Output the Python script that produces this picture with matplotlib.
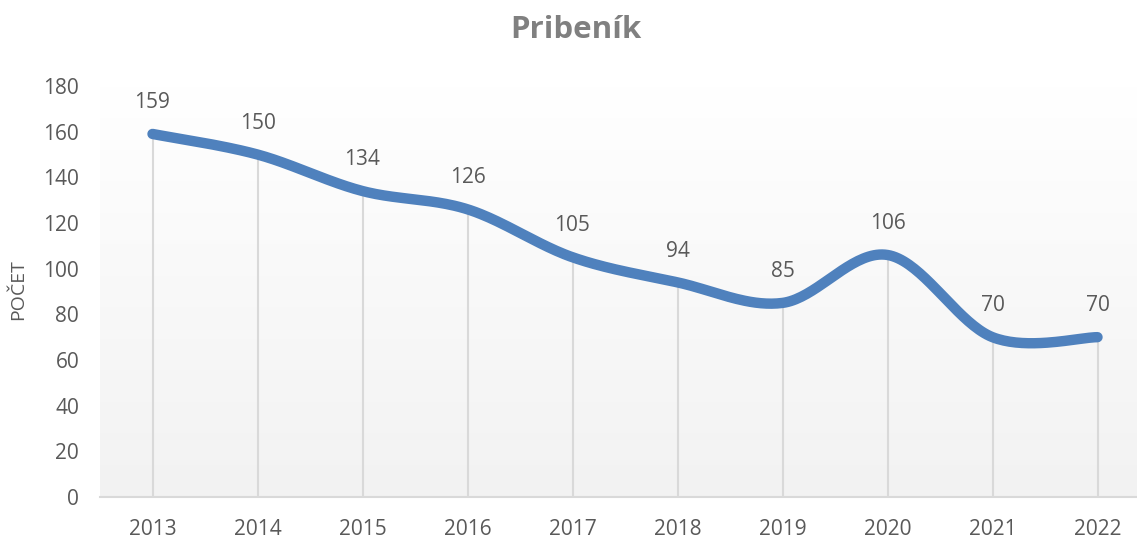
import numpy as np
import matplotlib.pyplot as plt

years = ['2013', '2014', '2015', '2016', '2017', '2018', '2019', '2020', '2021', '2022']
counts = [159, 150, 134, 126, 105, 94, 85, 106, 70, 70]
yticks = [0, 20, 40, 60, 80, 100, 120, 140, 160, 180]

plt.rcParams['font.family'] = ['Open Sans', 'DejaVu Sans']


def smooth(xs, ys, n=40):
    # excel-like smoothing: bezier segments with catmull-rom control points
    xs = np.asarray(xs, float)
    ys = np.asarray(ys, float)
    px = np.concatenate([[xs[0]], xs, [xs[-1]]])
    py = np.concatenate([[ys[0]], ys, [ys[-1]]])
    outx, outy = [], []
    t = np.linspace(0, 1, n)
    for i in range(1, len(px) - 2):
        p0 = np.array([px[i], py[i]])
        p3 = np.array([px[i + 1], py[i + 1]])
        c1 = p0 + (np.array([px[i + 1], py[i + 1]]) - np.array([px[i - 1], py[i - 1]])) / 6
        c2 = p3 - (np.array([px[i + 2], py[i + 2]]) - np.array([px[i], py[i]])) / 6
        b = ((1 - t) ** 3)[:, None] * p0 + (3 * (1 - t) ** 2 * t)[:, None] * c1 \
            + (3 * (1 - t) * t ** 2)[:, None] * c2 + (t ** 3)[:, None] * p3
        outx.extend(b[:, 0])
        outy.extend(b[:, 1])
    return outx, outy


fig = plt.figure(figsize=(11.37, 5.38), dpi=100)
left = 100 / 1137
ax = fig.add_axes([left, 41 / 538, 1 - left, 411 / 538])

x = np.arange(len(years))
span = (1137 - 100) / 105
ax.set_xlim(-0.5, -0.5 + span)
ax.set_ylim(0, 180)

# gradient background of the plot area
grad = np.linspace(0, 1, 256)[:, None]
ax.imshow(grad, cmap=plt.matplotlib.colors.LinearSegmentedColormap.from_list(
    'bg', ['#f2f2f2', '#ffffff']), aspect='auto', origin='lower',
    extent=[-0.5, -0.5 + span, 0, 180], zorder=0)

# drop lines
ax.vlines(x, 0, counts, color='#d9d9d9', lw=1.5, zorder=1)

sx, sy = smooth(x, counts)
ax.plot(sx, sy, color='#4f81bd', lw=7.5, solid_capstyle='round', zorder=3)

for xi, c in zip(x, counts):
    ax.annotate(str(c), (xi, c), xytext=(0, 15), textcoords='offset points',
                ha='center', va='bottom', fontsize=15, color='#595959')

ax.set_xticks(x)
ax.set_xticklabels(years)
ax.set_yticks(yticks)
ax.tick_params(axis='both', length=0, labelsize=15, labelcolor='#595959')
ax.tick_params(axis='x', pad=16)
ax.tick_params(axis='y', pad=15)
for s in ['top', 'right', 'left']:
    ax.spines[s].set_visible(False)
ax.spines['bottom'].set_color('#d9d9d9')
ax.spines['bottom'].set_linewidth(1.5)

fig.text(18 / 1137, 1 - 290 / 538, 'POČET', rotation=90, ha='center', va='center',
         fontsize=14, color='#595959')
fig.text(576 / 1137, 1 - 30 / 538, 'Pribeník', ha='center', va='center',
         fontsize=22.5, fontweight='bold', color='#808080')

fig.savefig('out.png', dpi=100)
